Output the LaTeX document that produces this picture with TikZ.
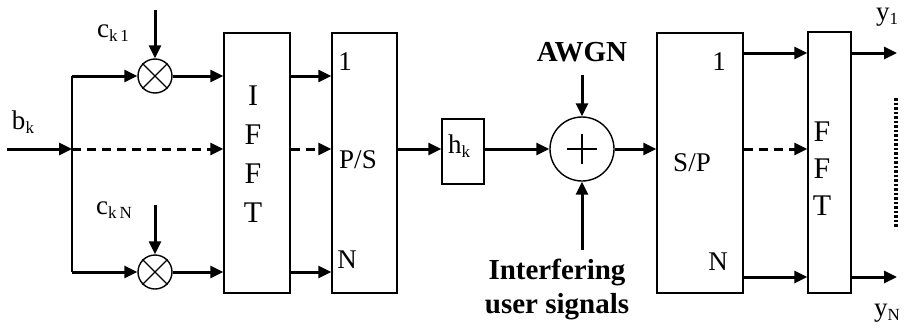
\documentclass[tikz,border=0pt]{standalone}
\usepackage{fontspec}
\setmainfont{Liberation Serif}
\usetikzlibrary{arrows.meta}
\newcommand{\sbs}[1]{\raisebox{-0.35ex}{\fontsize{17}{17}\selectfont #1}}
\begin{document}
\begin{tikzpicture}[x=1pt,y=-1pt,
  sig/.style={line width=3pt,-{Triangle[length=13pt,width=12pt]}},
  wire/.style={line width=2.6pt},
  dsig/.style={sig,dash pattern=on 9pt off 6pt},
  box/.style={draw,line width=1.4pt,rectangle,inner sep=0pt},
  opcirc/.style={draw,line width=1.4pt,circle,inner sep=0pt},
  txt/.style={font=\fontsize{27}{29}\selectfont,inner sep=0pt},
  btxt/.style={font=\bfseries\fontsize{29}{34}\selectfont,inner sep=0pt,align=center},
  vtxt/.style={font=\fontsize{30}{39}\selectfont,inner sep=0pt,align=center}]
\useasboundingbox (0,0) rectangle (907,332);

% boxes
\node[box,minimum width=66pt,minimum height=260pt] (ifft) at (257,163) {};
\node[box,minimum width=65pt,minimum height=260pt] (ps) at (364.5,163) {};
\node[box,minimum width=42pt,minimum height=65pt] (hk) at (463,151.5) {};
\node[box,minimum width=86pt,minimum height=260pt] (sp) at (700,163) {};
\node[box,minimum width=43pt,minimum height=261pt] (fft) at (829.5,162.5) {};

% operators
\node[opcirc,minimum size=34pt] (m1) at (155,76) {};
\node[opcirc,minimum size=34pt] (mN) at (155,272) {};
\node[opcirc,minimum size=64pt] (sum) at (582,149) {};
\draw[line width=1.3pt] (m1.north west) -- (m1.south east) (m1.north east) -- (m1.south west);
\draw[line width=1.3pt] (mN.north west) -- (mN.south east) (mN.north east) -- (mN.south west);
\draw[line width=1.3pt] ([xshift=-15pt]sum.center) -- ([xshift=15pt]sum.center)
  ([yshift=-15pt]sum.center) -- ([yshift=15pt]sum.center);

% coordinates
\coordinate (in) at (7,149);
\coordinate (j) at (72,149);
\coordinate (jt) at (72,76);
\coordinate (jb) at (72,272);
\coordinate (c1top) at (155,10);
\coordinate (cNtop) at (155,205);
\coordinate (awgntop) at (582,75);
\coordinate (inttop) at (582,250);
\coordinate (o1) at (897,53);
\coordinate (oN) at (897,277);
\coordinate (dt) at (896,98);
\coordinate (db) at (896,227);

% texts
\node[txt] (bk) at (23,122) {b\sbs{k}};
\node[txt] (ck1) at (113,33) {c\sbs{k\,1}};
\node[txt] (ckN) at (114,210) {c\sbs{k\,N}};
\node[vtxt] (ifftlab) at (253,154) {I\\F\\F\\T};
\node[txt] (ps1) at (345,62) {1};
\node[txt] (pslab) at (358,160) {P/S};
\node[txt] (psN) at (347,260) {N};
\node[txt] (hklab) at (459,146) {h\sbs{k}};
\node[btxt] (awgn) at (582,52) {AWGN};
\node[btxt] (intf) at (557,289) {Interfering\\user signals};
\node[txt] (sp1) at (719,62) {1};
\node[txt] (splab) at (692,163) {S/P};
\node[txt] (spN) at (718,262) {N};
\node[vtxt,font=\fontsize{30}{37}\selectfont] (fftlab) at (822,169) {F\\F\\T};
\node[txt] (y1) at (887,17) {y\sbs{1}};
\node[txt] (yN) at (887,313) {y\sbs{N}};

% connectors
\draw[sig] (in) -- (j);
\draw[wire] (jt) -- (jb);
\draw[sig] (jt) -- (m1.west);
\draw[sig] (jb) -- (mN.west);
\draw[dsig] (j) -- (j -| ifft.west);
\draw[sig] (c1top) -- (m1.north);
\draw[sig] (cNtop) -- (mN.north);
\draw[sig] (m1.east) -- (m1 -| ifft.west);
\draw[sig] (mN.east) -- (mN -| ifft.west);
\draw[sig] (ifft.east |- m1) -- (ps.west |- m1);
\draw[dsig] (ifft.east |- j) -- (ps.west |- j);
\draw[sig] (ifft.east |- mN) -- (ps.west |- mN);
\draw[sig] (ps.east |- j) -- (hk.west |- j);
\draw[sig] (hk.east |- sum) -- (sum.west);
\draw[sig] (awgntop) -- (sum.north);
\draw[sig] (inttop) -- (sum.south);
\draw[sig] (sum.east) -- (sp.west |- sum);
\draw[sig] (sp.east |- o1) -- (fft.west |- o1);
\draw[dsig] (sp.east |- sum) -- (fft.west |- sum);
\draw[sig] (sp.east |- oN) -- (fft.west |- oN);
\draw[sig] (fft.east |- o1) -- (o1);
\draw[sig] (fft.east |- oN) -- (oN);
\draw[line width=3.5pt,dash pattern=on 2.5pt off 2pt] (dt) -- (db);
\end{tikzpicture}
\end{document}
